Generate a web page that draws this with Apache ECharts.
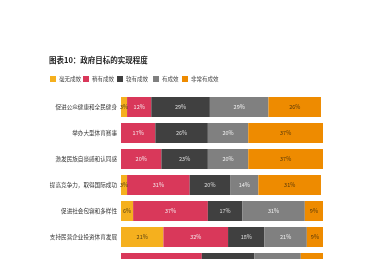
<!DOCTYPE html>
<html><head><meta charset="utf-8">
<script src="https://cdn.jsdelivr.net/npm/echarts@6/dist/echarts.min.js"></script>
<style>html,body{margin:0;padding:0;background:#fff;overflow:hidden;width:375px;height:259px}#c{width:375px;height:300px}</style>
</head><body><div id="c"></div>
<script>
const categories = ['促进公众健康和全民健身','举办大型体育赛事','激发民族自豪感和认同感','提高竞争力，取得国际成功','促进社会包容和多样性','支持民营企业投资体育发展','推动经济增长和就业'];
const seriesNames = ['毫无成效','稍有成效','较有成效','有成效','非常有成效'];
const none = [3, 0, 0, 3, 6, 21, 0];
const slight = [12, 17, 20, 31, 37, 32, 40];
const fairly = [29, 26, 23, 20, 17, 18, 26];
const effective = [29, 20, 20, 14, 31, 21, 23];
const very = [26, 37, 37, 31, 9, 9, 11];
const values = [none, slight, fairly, effective, very];
const colors = ['#F5B01E','#D9385A','#404040','#808080','#EE8B00'];
const labelColors = ['#5a4214','#f4e4e8','#dddddd','#eeeeee','#5a3a08'];
const legendLeft = [45, 78, 112, 148, 177];

const chart = echarts.init(document.getElementById('c'), null, {renderer:'canvas'});
chart.setOption({
  backgroundColor:'#fff',
  animation:false,
  color: colors,
  title:{text:'图表10：政府目标的实现程度', left:44, top:51,
    textStyle:{fontSize:7.5, fontWeight:'bold', color:'#222', fontFamily:'Noto Sans CJK SC'}},
  legend: seriesNames.map((n,i)=>({
    data:[n], left:legendLeft[i], top:71, itemWidth:6, itemHeight:6, itemGap:0,
    icon:'rect', textStyle:{fontSize:5.5, color:'#444', fontFamily:'Noto Sans CJK SC', padding:[0,0,0,-2]}
  })),
  grid:{left:121, top:94, width:202, height:182, containLabel:false},
  xAxis:{type:'value', min:0, max:100, show:false},
  yAxis:{type:'category', data:categories, inverse:true,
    axisLine:{show:false}, axisTick:{show:false},
    axisLabel:{fontSize:5.6, color:'#333', margin:4, fontFamily:'Noto Sans CJK SC'}},
  series: values.map((arr,i)=>({
    name: seriesNames[i], type:'bar', stack:'s', data:arr, barWidth:20,
    itemStyle:{color:colors[i]},
    label:{show:true, position:'inside', fontSize:5.5, color:labelColors[i],
      fontFamily:'Noto Sans CJK SC',
      formatter:p=>p.value>0?p.value+'%':''}
  }))
});
</script></body></html>
